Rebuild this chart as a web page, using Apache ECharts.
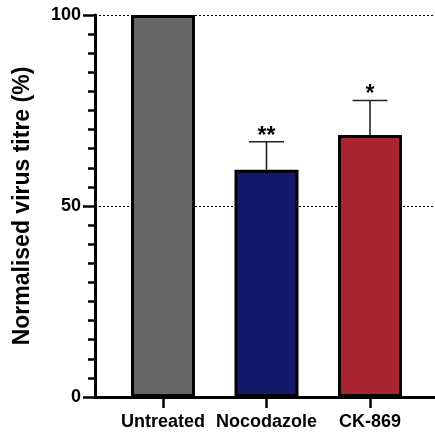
<!DOCTYPE html>
<html>
<head>
<meta charset="utf-8">
<script src="https://cdn.jsdelivr.net/npm/echarts@6/dist/echarts.min.js"></script>
<style>html,body{margin:0;padding:0;background:#fff}#c{width:435px;height:434px}</style>
</head>
<body>
<div id="c"></div>
<script>
const categories = ['Untreated', 'Nocodazole', 'CK-869'];
const values = [100, 59.5, 68.6];
const errors = [0, 7.3, 9.0];
const significance = ['', '**', '*'];
const colors = ['#666666', '#13186A', '#A8252F'];
const yTicks = [0, 50, 100];

const FONT = '"Liberation Sans", Arial, sans-serif';
const chart = echarts.init(document.getElementById('c'), null, {renderer: 'canvas'});

const option = {
  animation: false,
  grid: [
    {left: 95, right: 0, top: 15, bottom: 37, containLabel: false},
    {left: 111.25, width: 310.5, top: 15, bottom: 37, containLabel: false}
  ],
  xAxis: [
    {
      type: 'value', gridIndex: 0, min: 0, max: 1,
      axisLine: {show: true, lineStyle: {color: '#000', width: 3}},
      axisTick: {show: false}, axisLabel: {show: false}, splitLine: {show: false}
    },
    {
      type: 'category', gridIndex: 1, data: categories,
      axisLine: {show: false},
      axisTick: {show: true, alignWithLabel: true, length: 11, lineStyle: {color: '#000', width: 2.5}},
      axisLabel: {color: '#000', fontFamily: FONT, fontWeight: 'bold', fontSize: 18, margin: 16, interval: 0, hideOverlap: false}
    }
  ],
  yAxis: [
    {
      type: 'value', gridIndex: 0, min: yTicks[0], max: yTicks[yTicks.length - 1], interval: yTicks[1] - yTicks[0],
      name: 'Normalised virus titre (%)', nameLocation: 'middle', nameGap: 61,
      nameTextStyle: {color: '#000', fontFamily: FONT, fontWeight: 'bold', fontSize: 23},
      axisLine: {show: true, lineStyle: {color: '#000', width: 3}},
      axisTick: {show: true, length: 12, lineStyle: {color: '#000', width: 2.5}},
      minorTick: {show: true, splitNumber: 10, length: 7, lineStyle: {color: '#000', width: 2.5}},
      axisLabel: {color: '#000', fontFamily: FONT, fontWeight: 'bold', fontSize: 18, margin: 14},
      splitLine: {show: true, lineStyle: {color: '#000', width: 1, type: [2, 2]}}
    },
    {
      type: 'value', gridIndex: 1, min: yTicks[0], max: yTicks[yTicks.length - 1],
      show: false
    }
  ],
  series: [
    {
      type: 'custom', xAxisIndex: 1, yAxisIndex: 1, z: 1,
      data: categories.map((c, i) => [i, values[i], errors[i]]),
      renderItem: function (params, api) {
        const i = api.value(0);
        const v = api.value(1);
        const e = api.value(2);
        const sig = significance[i];
        if (!e) return {type: 'group', children: []};
        const p0 = api.coord([i, v]);
        const p1 = api.coord([i, v + e]);
        const hw = 17.5;
        const children = [
          {type: 'line', shape: {x1: p0[0], y1: p0[1], x2: p1[0], y2: p1[1]}, style: {stroke: '#222', lineWidth: 1.6}},
          {type: 'line', shape: {x1: p1[0] - hw, y1: p1[1], x2: p1[0] + hw, y2: p1[1]}, style: {stroke: '#222', lineWidth: 1.6}}
        ];
        if (sig) {
          children.push({type: 'text', style: {text: sig, x: p1[0], y: p1[1] + 6, align: 'center', verticalAlign: 'bottom',
            fill: '#000', font: 'bold 23px ' + FONT}});
        }
        return {type: 'group', children: children};
      }
    },
    {
      type: 'bar', xAxisIndex: 1, yAxisIndex: 1, z: 3, barWidth: 64,
      data: values.map((v, i) => ({value: v, itemStyle: {color: colors[i]}})),
      itemStyle: {borderColor: '#000', borderWidth: 3}
    }
  ]
};
chart.setOption(option);
</script>
</body>
</html>
